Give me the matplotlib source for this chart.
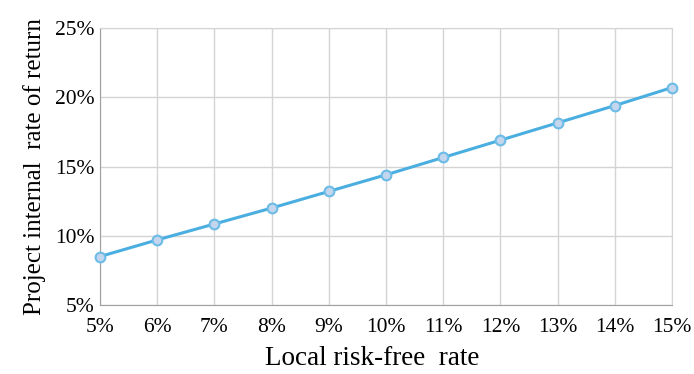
import matplotlib
matplotlib.use("Agg")
import matplotlib.pyplot as plt
from matplotlib.ticker import FuncFormatter, MultipleLocator

plt.rcParams['font.family'] = ['Liberation Serif', 'DejaVu Serif']

risk_free = [5, 6, 7, 8, 9, 10, 11, 12, 13, 14, 15]
irr = [8.5, 9.7, 10.85, 12.0, 13.2, 14.4, 15.65, 16.9, 18.15, 19.4, 20.7]

fig = plt.figure(figsize=(6.94, 3.74), dpi=100)
ax = fig.add_axes([100/694, 1-305/374, 572/694, 277/374])

ax.plot(risk_free, irr, color='#4aaee0', lw=2.2, marker='o', ms=7,
        markerfacecolor='#c4d6ee', markeredgecolor='#6bbce6', markeredgewidth=1.5,
        zorder=3, clip_on=False)

ax.set_xlim(5, 15)
ax.set_ylim(5, 25)
ax.xaxis.set_major_locator(MultipleLocator(1))
ax.yaxis.set_major_locator(MultipleLocator(5))
fmt = FuncFormatter(lambda v, p: f"{int(round(v))}%")
ax.xaxis.set_major_formatter(fmt)
ax.yaxis.set_major_formatter(fmt)
ax.grid(True, color='#d4d4d4', lw=1.0)
for s in ax.spines.values():
    s.set_color('#d4d4d4')
ax.spines['left'].set_color('#a0a0a0')
ax.spines['bottom'].set_color('#a0a0a0')
ax.tick_params(length=0, labelsize=15.5, pad=4)
ax.tick_params(axis='x', pad=9)
ax.set_xlabel('Local risk-free  rate', fontsize=19.5, labelpad=7)
ax.xaxis.label.set_x(0.476)
ax.set_ylabel('Project internal  rate of return', fontsize=18, labelpad=6)

fig.savefig('out.png', dpi=100)
